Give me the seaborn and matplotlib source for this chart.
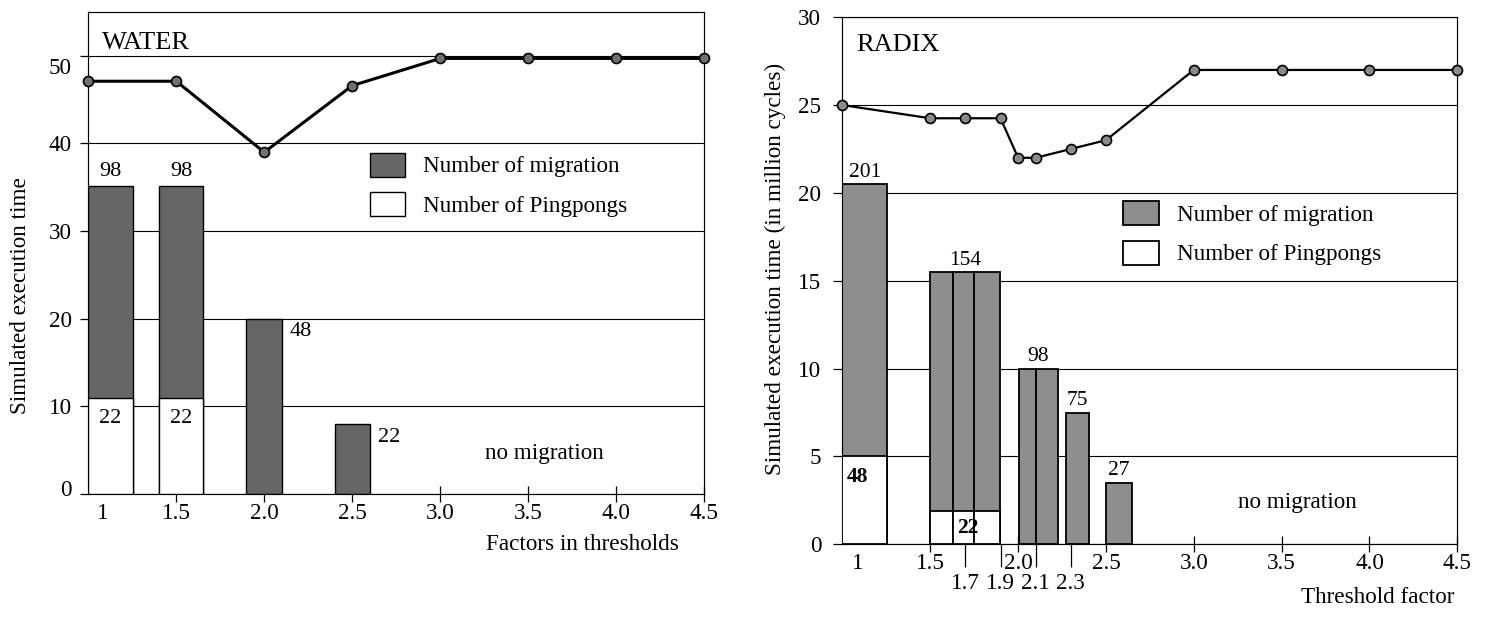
import numpy as np
import pandas as pd
import matplotlib
matplotlib.use("Agg")
import matplotlib.pyplot as plt
import matplotlib.transforms as mtransforms
from matplotlib.patches import Patch
import seaborn as sns

# ------------------------------------------------------------------ data
# WATER panel
water_factor = [1.0, 1.5, 2.0, 2.5, 3.0, 3.5, 4.0, 4.5]
water_time = [47.1, 47.1, 39.0, 46.6, 49.7, 49.7, 49.7, 49.7]
water_bar_factor = [1.0, 1.5, 2.0, 2.5]
water_bar_top = [35.1, 35.1, 20.0, 8.0]          # top of migration bar
water_ping_top = [10.9, 10.9, 0.0, 0.0]           # top of pingpong part
water_mig_label = ["98", "98", "48", "22"]
water_ping_label = ["22", "22", "", ""]

# RADIX panel
radix_factor = [1.0, 1.5, 1.7, 1.9, 2.0, 2.1, 2.3, 2.5, 3.0, 3.5, 4.0, 4.5]
radix_time = [25.0, 24.25, 24.25, 24.25, 22.0, 22.0, 22.5, 23.0, 27.0, 27.0, 27.0, 27.0]
radix_bar_factor = [1.0, 1.5, 1.7, 1.9, 2.0, 2.1, 2.3, 2.5]
radix_bar_top = [20.5, 15.5, 15.5, 15.5, 10.0, 10.0, 7.5, 3.5]
radix_ping_top = [5.0, 1.9, 1.9, 1.9, 0.0, 0.0, 0.0, 0.0]
radix_mig_label = ["201", "154", "98", "75", "27"]
radix_mig_group = [[1.0], [1.5, 1.7, 1.9], [2.0, 2.1], [2.3], [2.5]]
radix_ping_label = ["48", "22"]
radix_ping_group = [[1.0], [1.5, 1.7, 1.9]]

major_ticks = [1.0, 1.5, 2.0, 2.5, 3.0, 3.5, 4.0, 4.5]
major_tick_labels = ["1", "1.5", "2.0", "2.5", "3.0", "3.5", "4.0", "4.5"]
radix_minor_ticks = [1.7, 1.9, 2.1, 2.3]
radix_minor_labels = ["1.7", "1.9", "2.1", "2.3"]

legend_labels = ["Number of migration", "Number of Pingpongs"]

# ------------------------------------------------------------------ layout / style
water_bar_offset = [0.0, -0.098, -0.101, -0.10]
water_bar_width = [0.252, 0.25, 0.2, 0.2]
radix_bar_offset = [0.0, -0.001, -0.072, -0.149, 0.003, 0.004, -0.026, 0.0]
radix_bar_width = [0.256, 0.129, 0.123, 0.148, 0.100, 0.123, 0.128, 0.150]

FS = 16.7
sns.set_style("ticks")
plt.rcParams["font.family"] = ["Liberation Serif", "DejaVu Serif"]
plt.rcParams.update({
    "axes.edgecolor": "black", "axes.linewidth": 0.85,
    "xtick.color": "black", "ytick.color": "black",
    "text.color": "black", "axes.labelcolor": "black",
    "axes.facecolor": "white", "figure.facecolor": "white",
})

fig = plt.figure(figsize=(14.86, 6.18), dpi=100)
axL = fig.add_axes([0.0594, 0.2006, 0.4145, 0.780])
axR = fig.add_axes([0.5669, 0.1193, 0.4138, 0.8528])


def draw_panel(ax, factor, time, bar_factor, bar_top, ping_top, offs, widths,
               bar_color, marker_color, line_w, edge_w):
    left = np.array(bar_factor) + np.array(offs)
    ax.bar(left, bar_top, width=widths, align="edge", color=bar_color,
           edgecolor="black", linewidth=edge_w, zorder=2)
    pt = np.array(ping_top)
    m = pt > 0
    ax.bar(left[m], pt[m], width=np.array(widths)[m], align="edge", color="white",
           edgecolor="black", linewidth=edge_w, zorder=3)
    df = pd.DataFrame({"factor": factor, "time": time})
    sns.lineplot(data=df, x="factor", y="time", ax=ax, color="black", lw=line_w,
                 marker="o", markersize=7.2, markerfacecolor=marker_color,
                 markeredgecolor="black", markeredgewidth=1.2, clip_on=False,
                 zorder=5, legend=False)
    ax.set_axisbelow(True)
    ax.yaxis.grid(True, color="black", lw=0.8)
    ax.xaxis.grid(False)
    ax.set_xlim(1.0, 4.5)
    ax.set_xticks(major_ticks)
    ax.set_xticklabels(major_tick_labels)
    ax.tick_params(axis="x", which="major", direction="inout", length=11,
                   width=0.9, pad=1, labelsize=FS)
    for s in ax.spines.values():
        s.set_visible(True)
        s.set_color("black")
    handles = [Patch(facecolor=bar_color, edgecolor="black", lw=edge_w),
               Patch(facecolor="white", edgecolor="black", lw=edge_w)]
    return handles


# ---------------- WATER
hL = draw_panel(axL, water_factor, water_time, water_bar_factor, water_bar_top,
                water_ping_top, water_bar_offset, water_bar_width,
                "#666666", "#707070", 2.2, 1.0)
axL.set_ylim(0, 55.0)
axL.set_yticks([0, 10, 20, 30, 40, 50])
axL.tick_params(axis="y", direction="out", length=5.8, width=0.9, pad=6, labelsize=FS)
axL.set_ylabel("Simulated execution time", fontsize=FS)
axL.yaxis.set_label_coords(-0.093, 0.412)
axL.set_xlabel("Factors in thresholds", fontsize=FS, ha="right")
axL.xaxis.set_label_coords(0.959, -0.083)
axL.text(0.023, 0.935, "WATER", transform=axL.transAxes, fontsize=19,
         ha="left", va="center")
axL.text(0.740, 0.085, "no migration", transform=axL.transAxes, fontsize=FS,
         ha="center", va="center")
wl = np.array(water_bar_factor) + np.array(water_bar_offset)
ww = np.array(water_bar_width)
for i, lab in enumerate(water_mig_label):
    if water_ping_top[i] > 0:
        axL.annotate(lab, (wl[i] + ww[i] / 2, water_bar_top[i]), xytext=(0, 11),
                     textcoords="offset points", ha="center", va="center", fontsize=16)
    else:
        axL.annotate(lab, (wl[i] + ww[i], water_bar_top[i]), xytext=(6, -9.5),
                     textcoords="offset points", ha="left", va="center", fontsize=16)
for i, lab in enumerate(water_ping_label):
    if lab:
        axL.annotate(lab, (wl[i] + ww[i] / 2, water_ping_top[i]), xytext=(0, -14.5),
                     textcoords="offset points", ha="center", va="center", fontsize=16)
axL.legend(hL, legend_labels, loc="upper left", bbox_to_anchor=(0.457, 0.708),
           frameon=False, borderpad=0, borderaxespad=0, handlelength=1.51,
           handleheight=1.2, labelspacing=0.62, handletextpad=0.77, fontsize=FS)

# ---------------- RADIX
hR = draw_panel(axR, radix_factor, radix_time, radix_bar_factor, radix_bar_top,
                radix_ping_top, radix_bar_offset, radix_bar_width,
                "#8e8e8e", "#8a8a8a", 1.6, 1.3)
axR.set_ylim(0, 30)
axR.set_yticks([0, 5, 10, 15, 20, 25, 30])
axR.tick_params(axis="y", direction="out", length=6.2, width=0.9, pad=9, labelsize=FS)
axR.set_xticks(radix_minor_ticks, minor=True)
axR.set_xticklabels(radix_minor_labels, minor=True)
axR.tick_params(axis="x", which="minor", direction="out", length=16.5, width=0.9,
                pad=4, labelsize=FS)
axR.set_ylabel("Simulated execution time (in million cycles)", fontsize=FS)
axR.yaxis.set_label_coords(-0.092, 0.523)
axR.set_xlabel("Threshold factor", fontsize=FS, ha="right")
axR.xaxis.set_label_coords(0.995, -0.082)
axR.text(0.022, 0.948, "RADIX", transform=axR.transAxes, fontsize=19,
         ha="left", va="center")
axR.text(0.740, 0.080, "no migration", transform=axR.transAxes, fontsize=FS,
         ha="center", va="center")
rl = np.array(radix_bar_factor) + np.array(radix_bar_offset)
rr = rl + np.array(radix_bar_width)
fac = list(radix_bar_factor)
for lab, grp in zip(radix_mig_label, radix_mig_group):
    idx = [fac.index(g) for g in grp]
    xc = (rl[idx].min() + rr[idx].max()) / 2
    top = max(radix_bar_top[j] for j in idx)
    axR.annotate(lab, (xc, top), xytext=(0, 8.5), textcoords="offset points",
                 ha="center", va="center", fontsize=15.5)
for lab, grp in zip(radix_ping_label, radix_ping_group):
    idx = [fac.index(g) for g in grp]
    top = max(radix_ping_top[j] for j in idx)
    if len(idx) == 1:
        axR.annotate(lab, (rl[idx[0]], top), xytext=(3, -15), textcoords="offset points",
                     ha="left", va="center", fontsize=15.5, fontweight="bold")
    else:
        xc = (rl[idx].min() + rr[idx].max()) / 2
        axR.annotate(lab, (xc, top), xytext=(1.5, -12.5), textcoords="offset points",
                     ha="center", va="center", fontsize=15.5, fontweight="bold")
axR.legend(hR, legend_labels, loc="upper left", bbox_to_anchor=(0.457, 0.651),
           frameon=False, borderpad=0, borderaxespad=0, handlelength=1.53,
           handleheight=1.2, labelspacing=0.64, handletextpad=0.76, fontsize=FS)

# hand-placed details of the original drawing
shift_right = mtransforms.ScaledTranslation(0.15, 0, fig.dpi_scale_trans)
for ax in (axL, axR):
    t0 = ax.xaxis.get_major_ticks()[0]
    t0.tick1line.set_visible(False)
    t0.tick2line.set_visible(False)
    t0.label1.set_transform(t0.label1.get_transform() + shift_right)
yt = axL.yaxis.get_major_ticks()
yt[-1].label1.set_transform(yt[-1].label1.get_transform()
                            + mtransforms.ScaledTranslation(0, -0.10, fig.dpi_scale_trans))
yt[0].label1.set_transform(yt[0].label1.get_transform()
                           + mtransforms.ScaledTranslation(0, 0.06, fig.dpi_scale_trans))

fig.savefig("out.png", dpi=100)
